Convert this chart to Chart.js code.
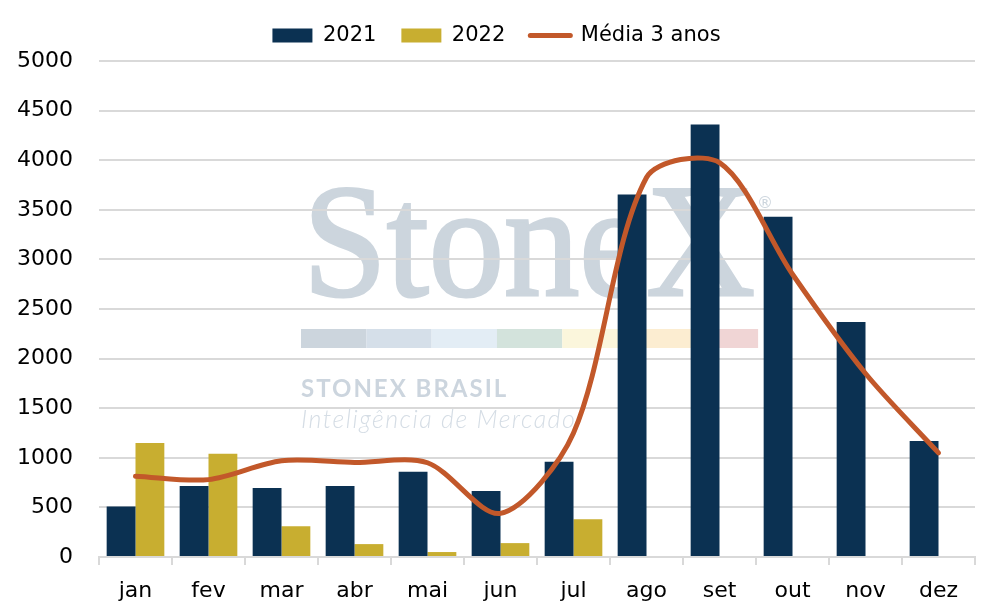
<!DOCTYPE html>
<html>
<head>
<meta charset="utf-8">
<script src="https://cdn.jsdelivr.net/npm/chart.js@4.4.0/dist/chart.umd.min.js"></script>
<style>
	html, body { margin: 0; padding: 0; background: #fff; }
	#wrap { width: 998px; height: 616px; }
</style>
</head>
<body>
<div id="wrap"><canvas id="chart" width="998" height="616"></canvas></div>
<script>
const categories = ["jan", "fev", "mar", "abr", "mai", "jun", "jul", "ago", "set", "out", "nov", "dez"];
const values2021 = [510, 715, 695, 715, 860, 665, 960, 3655, 4360, 3430, 2370, 1170];
const values2022 = [1150, 1040, 310, 130, 50, 140, 380, null, null, null, null, null];
const media3anos = [815, 780, 970, 952, 950, 440, 1250, 3825, 3975, 2850, 1850, 1050];

// marca d'agua StoneX, desenhada antes da grade
const watermark = {
	id: "watermark",
	beforeLayout(chart) {
		// um pouco mais de espaco abaixo da legenda
		const lg = chart.legend;
		if (lg && !lg._extraSpace) {
			const fit = lg.fit;
			lg.fit = function () {
				fit.call(this);
				this.height += 5;
			};
			lg._extraSpace = true;
		}
	},
	beforeDraw(chart) {
		const ctx = chart.ctx;
		const x0 = 301;
		ctx.save();
		ctx.fillStyle = "#ffffff";
		ctx.fillRect(0, 0, chart.width, chart.height);
		ctx.fillStyle = "#ccd5dd";
		ctx.strokeStyle = "#ccd5dd";
		ctx.lineWidth = 3;
		ctx.font = "160px 'Liberation Serif'";
		ctx.textBaseline = "alphabetic";
		ctx.fillText("StoneX", x0 + 2, 295, 452);
		ctx.strokeText("StoneX", x0 + 2, 295, 452);
		ctx.font = "16px 'DejaVu Sans'";
		ctx.fillText("®", 757, 208);

		const bar = ["#ccd5dd", "#d5dfe9", "#e3edf5", "#d3e3dc", "#fbf6dc", "#fcedd1", "#f0d5d5"];
		bar.forEach((c, i) => {
			ctx.fillStyle = c;
			ctx.fillRect(x0 + i * 65.3, 329, 65.3, 19);
		});

		ctx.fillStyle = "#ccd5de";
		ctx.font = "bold 24px Lato";
		ctx.letterSpacing = "2px";
		ctx.fillText("STONEX BRASIL", x0, 397);
		ctx.fillStyle = "#d5dde5";
		ctx.font = "italic 300 25px Lato";
		ctx.letterSpacing = "1.5px";
		ctx.fillText("Inteligência de Mercado", x0, 428);
		ctx.restore();
	},
};

const ctx = document.getElementById("chart").getContext("2d");
new Chart(ctx, {
	type: "bar",
	data: {
		labels: categories,
		datasets: [
			{
				label: "2021",
				data: values2021,
				backgroundColor: "#0b3152",
				barPercentage: 1,
				categoryPercentage: 0.79,
				order: 1,
			},
			{
				label: "2022",
				data: values2022,
				backgroundColor: "#c8ae30",
				barPercentage: 1,
				categoryPercentage: 0.79,
				order: 2,
			},
			{
				type: "line",
				label: "Média 3 anos",
				data: media3anos,
				borderColor: "#c2582a",
				backgroundColor: "#c2582a",
				borderWidth: 5,
				pointRadius: 0,
				tension: 0.3,
				borderCapStyle: "round",
				order: 0,
			},
		],
	},
	options: {
		responsive: false,
		animation: false,
		layout: { padding: { left: 18, right: 23, top: 0, bottom: 0 } },
		plugins: {
			tooltip: { enabled: false },
			legend: {
				position: "top",
				labels: {
					color: "#000",
					font: { family: "DejaVu Sans", size: 21 },
					usePointStyle: true,
					pointStyleWidth: 40,
					boxHeight: 14,
					padding: 25,
					sort: (a, b) => a.datasetIndex - b.datasetIndex,
					generateLabels: function (chart) {
						const items = Chart.defaults.plugins.legend.labels.generateLabels(chart);
						items.forEach((item) => {
							if (item.datasetIndex === 2) {
								item.pointStyle = "line";
								item.lineWidth = 5;
								item.lineCap = "round";
								item.strokeStyle = "#c2582a";
							} else {
								item.pointStyle = "rect";
								item.lineWidth = 0;
							}
						});
						return items;
					},
				},
			},
		},
		scales: {
			x: {
				afterFit: (scale) => {
					scale.height = 59;
				},
				grid: {
					display: true,
					drawOnChartArea: false,
					drawTicks: true,
					tickLength: 8,
					color: "#d9d9d9",
					lineWidth: 2,
				},
				border: { color: "#d9d9d9", width: 2 },
				ticks: { color: "#000", font: { family: "DejaVu Sans", size: 22 }, padding: 13 },
			},
			y: {
				min: 0,
				max: 5000,
				afterFit: (scale) => {
					scale.width = 81;
				},
				ticks: {
					stepSize: 500,
					color: "#000",
					font: { family: "DejaVu Sans", size: 22 },
					padding: 26,
					callback: (v) => String(v),
				},
				grid: { color: "#d9d9d9", lineWidth: 2, drawTicks: false },
				border: { display: false },
			},
		},
	},
	plugins: [watermark],
});
</script>
</body>
</html>
